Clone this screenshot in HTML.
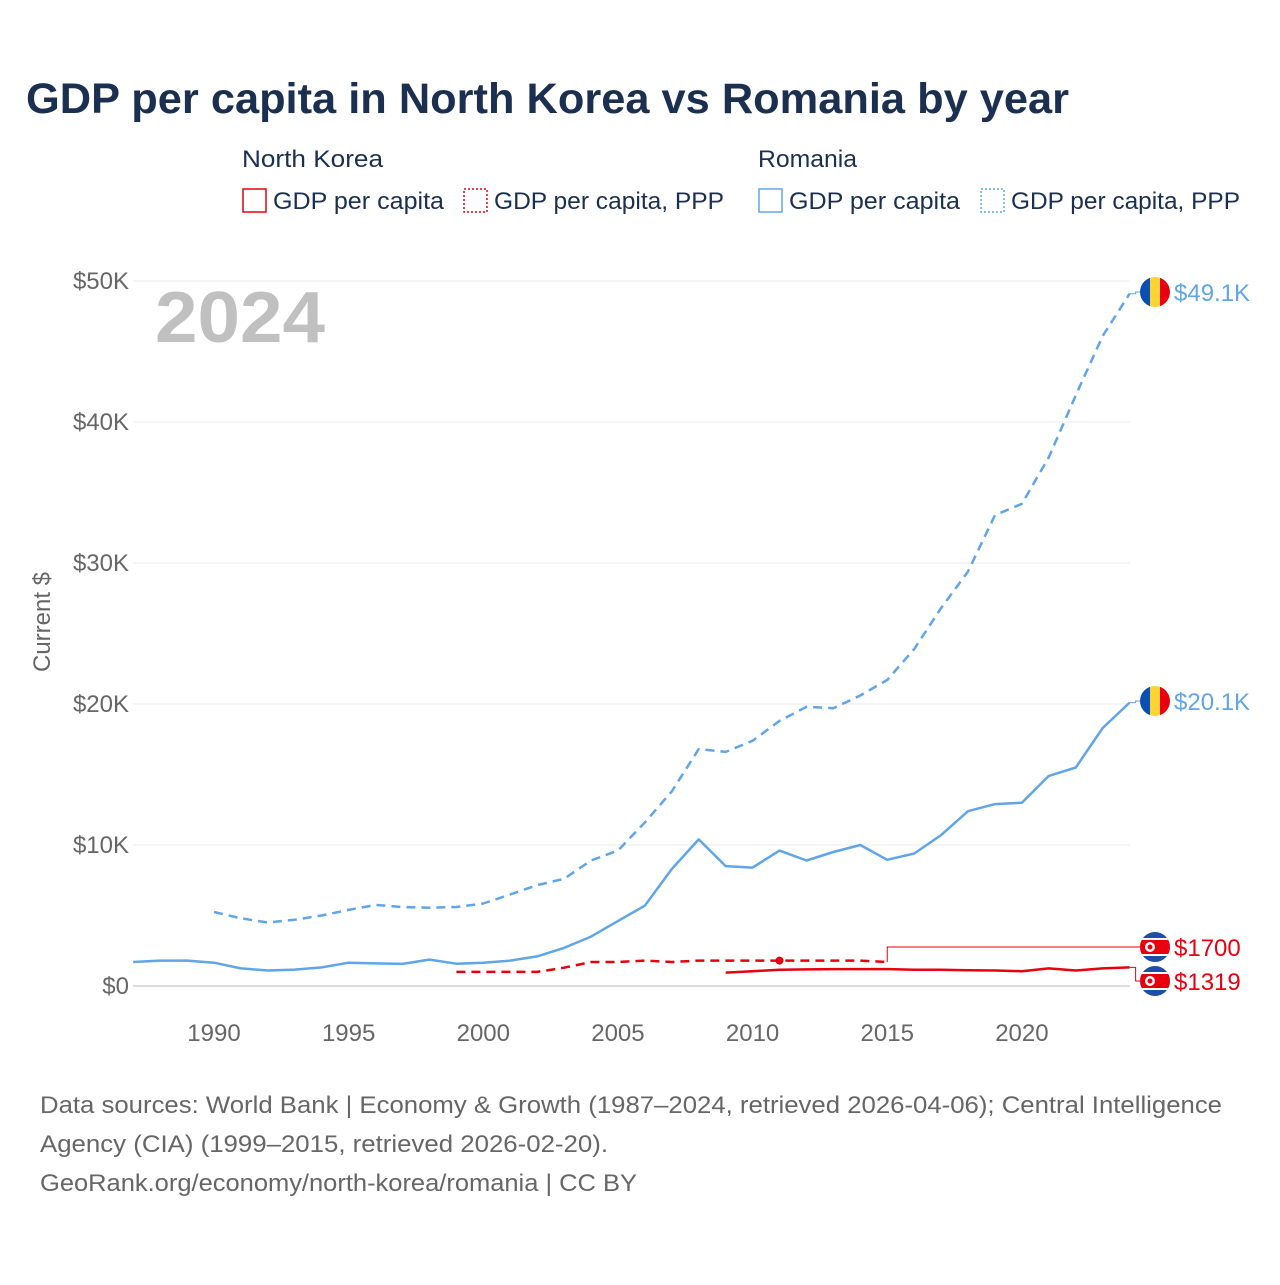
<!DOCTYPE html>
<html><head><meta charset="utf-8"><style>
body{margin:0;background:#fff;font-family:"Liberation Sans",sans-serif;}
</style></head><body>
<svg width="1280" height="1280" viewBox="0 0 1280 1280" xmlns="http://www.w3.org/2000/svg" font-family="Liberation Sans, sans-serif">
<text x="26" y="113" font-size="43" font-weight="bold" fill="#1b3050" textLength="1043" lengthAdjust="spacingAndGlyphs">GDP per capita in North Korea vs Romania by year</text>
<g font-size="24" fill="#1b3050">
<text x="242" y="167" textLength="141" lengthAdjust="spacingAndGlyphs">North Korea</text>
<text x="758" y="167" textLength="99" lengthAdjust="spacingAndGlyphs">Romania</text>
<g><rect x="243" y="189" width="23" height="23" fill="none" stroke="#e8000e" stroke-width="1.5"/><text x="273" y="209" textLength="171" lengthAdjust="spacingAndGlyphs">GDP per capita</text></g>
<g><rect x="464" y="189" width="23" height="23" fill="none" stroke="#e8000e" stroke-width="1.5" stroke-dasharray="2 2"/><text x="494" y="209" textLength="230" lengthAdjust="spacingAndGlyphs">GDP per capita, PPP</text></g>
<g><rect x="759" y="189" width="23" height="23" fill="none" stroke="#5fa5e8" stroke-width="1.5"/><text x="789" y="209" textLength="171" lengthAdjust="spacingAndGlyphs">GDP per capita</text></g>
<g><rect x="981" y="189" width="23" height="23" fill="none" stroke="#5fa5e8" stroke-width="1.5" stroke-dasharray="2 2"/><text x="1011" y="209" textLength="229" lengthAdjust="spacingAndGlyphs">GDP per capita, PPP</text></g>
</g>
<text x="155" y="342" font-size="72" font-weight="bold" fill="#c0c0c0" textLength="170" lengthAdjust="spacingAndGlyphs">2024</text>
<text transform="translate(50,622) rotate(-90)" text-anchor="middle" font-size="24" fill="#666">Current $</text>
<g id="grid"></g><g id="xt"></g><g id="series"></g><g id="labels"></g>
<g font-size="24" fill="#666">
<text x="40" y="1113" textLength="1182" lengthAdjust="spacingAndGlyphs">Data sources: World Bank | Economy &amp; Growth (1987–2024, retrieved 2026-04-06); Central Intelligence</text>
<text x="40" y="1152" textLength="568" lengthAdjust="spacingAndGlyphs">Agency (CIA) (1999–2015, retrieved 2026-02-20).</text>
<text x="40" y="1191" textLength="597" lengthAdjust="spacingAndGlyphs">GeoRank.org/economy/north-korea/romania | CC BY</text>
</g>
</svg>
<script>
const yTicks=[0,10,20,30,40,50];
const xTicks=[1990,1995,2000,2005,2010,2015,2020];
const roGdpStart=1987;
const roGdp=[1.7,1.8,1.8,1.65,1.25,1.1,1.16,1.32,1.65,1.6,1.57,1.87,1.58,1.65,1.8,2.1,2.7,3.5,4.6,5.7,8.3,10.4,8.5,8.4,9.6,8.9,9.5,10.0,8.95,9.4,10.7,12.4,12.9,13.0,14.9,15.5,18.3,20.1];
const roPppStart=1990;
const roPpp=[5.25,4.8,4.5,4.7,5.0,5.4,5.75,5.6,5.55,5.6,5.85,6.5,7.15,7.6,8.9,9.6,11.6,13.8,16.8,16.6,17.4,18.8,19.8,19.7,20.6,21.7,23.9,26.8,29.4,33.4,34.2,37.5,41.9,46.1,49.1];
const nkPppStart=1999;
const nkPpp=[1.0,1.0,1.0,1.0,1.3,1.7,1.7,1.8,1.7,1.8,1.8,1.8,1.8,1.8,1.8,1.8,1.7];
const nkGdpStart=2009;
const nkGdp=[0.95,1.05,1.15,1.18,1.2,1.2,1.2,1.15,1.15,1.12,1.1,1.05,1.25,1.1,1.25,1.32];
const X=yr=>133.2+(yr-1987)*26.93;
const Y=v=>986-v*14.1;
const NS="http://www.w3.org/2000/svg";
function mk(t,a,p){const e=document.createElementNS(NS,t);for(const k in a)e.setAttribute(k,a[k]);p.appendChild(e);return e;}
const grid=document.getElementById('grid');
yTicks.forEach(v=>{
 const l=mk('line',{x1:133,x2:1130,y1:Y(v),y2:Y(v),stroke:v===0?'#ddd':'#ebebeb','stroke-width':v===0?2:1},grid);
 
 
 const t=mk('text',{x:129,y:Y(v)+8,'text-anchor':'end','font-size':24,fill:'#666'},grid);
 t.textContent=v===0?'$0':'$'+v+'K';
 
 
});
const xt=document.getElementById('xt');
xTicks.forEach(v=>{
 const t=mk('text',{x:X(v),y:1041,'text-anchor':'middle','font-size':24,fill:'#666'},xt);
 t.textContent=v;
 
 
});
const S=document.getElementById('series');
function line(start,arr,col,dash,name){
 const d=arr.map((v,i)=>(i?'L':'M')+X(start+i).toFixed(1)+','+Y(v).toFixed(1)).join('');
 const p=mk('path',{d:d,fill:'none',stroke:col,'stroke-width':2.5,'stroke-dasharray':dash?'9 6':'none','stroke-linejoin':'round'},S);
 
 
}
line(roPppStart,roPpp,'#5fa5e8',true,'romania-ppp-line');
line(roGdpStart,roGdp,'#5fa5e8',false,'romania-gdp-line');
line(nkPppStart,nkPpp,'#e8000e',true,'north-korea-ppp-line');
line(nkGdpStart,nkGdp,'#e8000e',false,'north-korea-gdp-line');
const dot=mk('circle',{cx:X(2011),cy:Y(nkPpp[2011-nkPppStart]),r:4,fill:'#e8000e'},S);


const L=document.getElementById('labels');
function flag(cy,kind){
 const cx=1155;
 const g=mk('g',{},L);
 
 
 const id='c'+Math.round(cy);
 const cp=mk('clipPath',{id:id},g);mk('circle',{cx:cx,cy:cy,r:15},cp);
 const gg=mk('g',{'clip-path':'url(#'+id+')'},g);
 if(kind==='ro'){
  mk('rect',{x:cx-15,y:cy-15,width:10,height:30,fill:'#0b4fb0'},gg);
  mk('rect',{x:cx-5,y:cy-15,width:10,height:30,fill:'#fcd535'},gg);
  mk('rect',{x:cx+5,y:cy-15,width:10,height:30,fill:'#e8000e'},gg);
 }else{
  mk('rect',{x:cx-15,y:cy-15,width:30,height:30,fill:'#1e4fa8'},gg);
  mk('rect',{x:cx-15,y:cy-9,width:30,height:18,fill:'#fff'},gg);
  mk('rect',{x:cx-15,y:cy-7,width:30,height:14,fill:'#e8000e'},gg);
  mk('circle',{cx:cx-5,cy:cy,r:5,fill:'#fff'},gg);
  mk('circle',{cx:cx-5,cy:cy,r:2.5,fill:'#e8000e'},gg);
 }
}
function label(endYr,endV,ly,txt,col,kind){
 const x0=X(endYr),y0=Y(endV);
 const p=mk('path',{d:'M'+x0+','+y0+'H'+(x0+6)+'V'+ly+'H1140',fill:'none',stroke:col,'stroke-width':1},L);
 
 
 flag(ly,kind);
 const t=mk('text',{x:1174,y:ly+9,'font-size':24,fill:col},L);
 t.textContent=txt;
 
 
}
label(2024,roPpp[roPpp.length-1],292,'$49.1K','#5fa5e8','ro');
label(2024,roGdp[roGdp.length-1],701,'$20.1K','#5fa5e8','ro');
(function(){
 const x0=X(2015),y0=Y(nkPpp[nkPpp.length-1]),ly=947;
 const p=mk('path',{d:'M'+x0+','+y0+'V'+ly+'H1140',fill:'none',stroke:'#e8000e','stroke-width':1},L);
 
 
 flag(ly,'nk');
 const t=mk('text',{x:1174,y:ly+9,'font-size':24,fill:'#e8000e'},L);
 t.textContent='$1700';
 
 
})();
label(2024,nkGdp[nkGdp.length-1],981,'$1319','#e8000e','nk');
</script>
</body></html>
